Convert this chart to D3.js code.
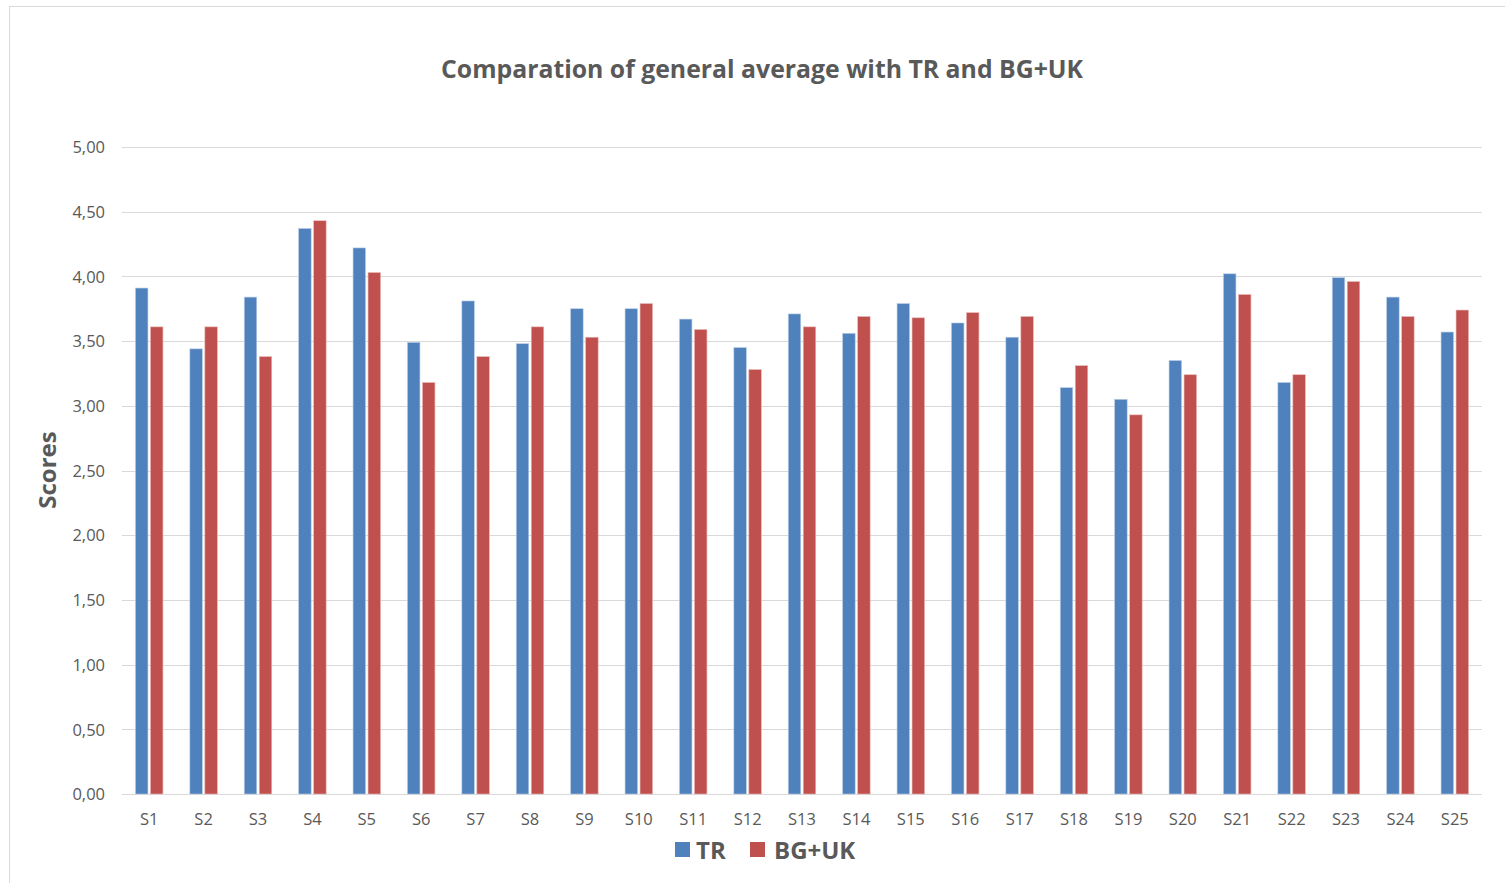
<!DOCTYPE html>
<html>
<head>
<meta charset="utf-8">
<script src="https://cdn.jsdelivr.net/npm/d3@7"></script>
<style>
  html, body { margin: 0; padding: 0; background: #fff; }
  svg { display: block; }
</style>
</head>
<body>
<svg id="chart" width="1505" height="883"></svg>
<script>
const categories = ["S1","S2","S3","S4","S5","S6","S7","S8","S9","S10","S11","S12","S13","S14","S15","S16","S17","S18","S19","S20","S21","S22","S23","S24","S25"];
const seriesNames = ["TR", "BG+UK"];
const trValues = [3.91,3.44,3.84,4.37,4.22,3.49,3.81,3.48,3.75,3.75,3.67,3.45,3.71,3.56,3.79,3.64,3.53,3.14,3.05,3.35,4.02,3.18,3.99,3.84,3.57];
const bgukValues = [3.61,3.61,3.38,4.43,4.03,3.18,3.38,3.61,3.53,3.79,3.59,3.28,3.61,3.69,3.68,3.72,3.69,3.31,2.93,3.24,3.86,3.24,3.96,3.69,3.74];
const yTicks = [0,0.5,1,1.5,2,2.5,3,3.5,4,4.5,5];
const colors = ["#4F81BD", "#C0504D"];
const titleText = "Comparation of general average with TR and BG+UK";
const yTitle = "Scores";

const svg = d3.select("#chart");
const font = "'Open Sans', 'Noto Sans', sans-serif";

// outer border
svg.append("rect").attr("x", 9.5).attr("y", 6.5).attr("width", 1520).attr("height", 900)
  .attr("fill", "none").attr("stroke", "#D9D9D9").attr("stroke-width", 1);

const plot = {left: 122, right: 1482, top: 147, bottom: 794};

const x = d3.scaleBand().domain(categories).range([plot.left, plot.right]).paddingInner(0).paddingOuter(0);
const y = d3.scaleLinear().domain([0, 5]).range([plot.bottom, plot.top]);

// gridlines
svg.append("g").selectAll("line").data(yTicks).join("line")
  .attr("x1", plot.left).attr("x2", plot.right)
  .attr("y1", d => Math.round(y(d)) + 0.5).attr("y2", d => Math.round(y(d)) + 0.5)
  .attr("stroke", "#D9D9D9").attr("stroke-width", 1);

// y axis labels
const fmt = v => v.toFixed(2).replace(".", ",");
const yAxis = d3.axisLeft(y).tickValues(yTicks).tickFormat(fmt).tickSize(0).tickPadding(0);
const gy = svg.append("g").attr("transform", `translate(105,0)`).call(yAxis);
gy.select(".domain").remove();
gy.selectAll("text").attr("font-family", font).attr("font-size", 16.5).attr("fill", "#595959").attr("dy", "0.35em");

// bars
const barW = 12.5, gap = 2.5;
const data = [trValues, bgukValues];
const gBars = svg.append("g");
data.forEach((vals, si) => {
  gBars.append("g").selectAll("rect").data(categories).join("rect")
    .attr("x", (c) => x(c) + x.bandwidth()/2 + (si === 0 ? -(barW + gap/2) : gap/2))
    .attr("y", (c, i) => y(vals[i]))
    .attr("width", barW)
    .attr("height", (c, i) => y(0) - y(vals[i]))
    .attr("fill", colors[si])
    .attr("stroke", si === 0 ? "#B9CDE5" : "#E6B9B8").attr("stroke-width", 0.6);
});

// x axis labels
const xAxis = d3.axisBottom(x).tickSize(0).tickPadding(0);
const gx = svg.append("g").attr("transform", `translate(0,${plot.bottom})`).call(xAxis);
gx.select(".domain").remove();
gx.selectAll("text").attr("font-family", font).attr("font-size", 16.5).attr("fill", "#595959")
  .attr("dy", null).attr("y", 31);

// title
svg.append("text").attr("x", 762).attr("y", 78).attr("text-anchor", "middle")
  .attr("font-family", font).attr("font-weight", 700).attr("font-size", 24.8).attr("fill", "#595959")
  .text(titleText);

// y title
svg.append("text").attr("transform", "translate(56,470) rotate(-90)").attr("text-anchor", "middle")
  .attr("font-family", font).attr("font-weight", 700).attr("font-size", 24).attr("fill", "#595959")
  .text(yTitle);

// legend
const legendItems = [
  {name: seriesNames[0], color: colors[0], sx: 675, tx: 696},
  {name: seriesNames[1], color: colors[1], sx: 750, tx: 774}
];
const lg = svg.append("g");
legendItems.forEach(it => {
  lg.append("rect").attr("x", it.sx).attr("y", 842).attr("width", 15).attr("height", 15).attr("fill", it.color);
  lg.append("text").attr("x", it.tx).attr("y", 859).attr("font-family", font).attr("font-weight", 700)
    .attr("font-size", 24).attr("fill", "#595959").text(it.name);
});
</script>
</body>
</html>
